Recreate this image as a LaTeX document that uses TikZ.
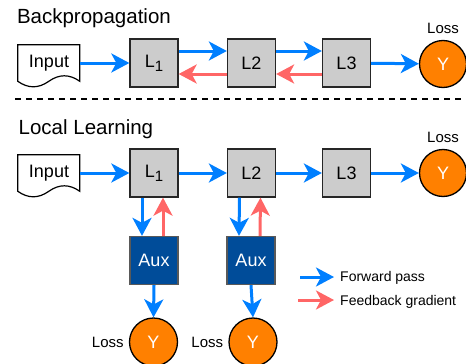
\documentclass[tikz,border=0pt]{standalone}
\usepackage{fontspec}
\setmainfont{Liberation Sans}
\usetikzlibrary{arrows.meta,positioning}
\definecolor{fwdblue}{HTML}{007FFF}
\definecolor{backred}{HTML}{FF6666}
\definecolor{boxgray}{HTML}{CCCCCC}
\definecolor{lossorange}{HTML}{FF8000}
\definecolor{auxblue}{HTML}{004C99}
\tikzset{
	layer/.style={draw=black!85,line width=1.3pt,fill=boxgray,minimum size=48pt,inner sep=0pt,font=\fontsize{18}{18}\selectfont},
	auxbox/.style={layer,draw=black!65,fill=auxblue,text=white},
	lossball/.style={circle,draw=black,line width=1.3pt,fill=lossorange,minimum size=47pt,inner sep=0pt,text=white,font=\fontsize{18}{18}\selectfont},
	inputdoc/.style={minimum width=62pt,minimum height=36pt,inner sep=0pt,font=\fontsize{18}{18}\selectfont},
	fwd/.style={draw=fwdblue,line width=3pt,-{Stealth[length=18pt,width=19pt,inset=5pt]}},
	bwd/.style={fwd,draw=backred},
	losstext/.style={inner sep=0pt,font=\fontsize{15}{15}\selectfont},
	title/.style={anchor=base west,inner sep=0pt,font=\fontsize{20.5}{20.5}\selectfont},
	legendtext/.style={anchor=base west,inner sep=0pt,font=\fontsize{14}{14}\selectfont}
}
\newcommand{\docoutline}[1]{%
	\draw[line width=1.2pt,shift={(#1.north west)}] (0,0) -- (62,0) -- (62,36.5)
		.. controls (51.67,29.17) and (41.33,29.17) .. (31,36.5)
		.. controls (20.67,43.83) and (10.33,43.83) .. (0,36.5) -- cycle;}
\begin{document}
\begin{tikzpicture}[x=1pt,y=-1pt]
	\useasboundingbox (0,0) rectangle (466,364);
	% backpropagation
	\node[title] (bptitle) at (16.8,23.5) {Backpropagation};
	\node[inputdoc] (in1) at (49,63) {Input};
	\docoutline{in1}
	\node[layer] (l1) at (154,63) {L\raisebox{-4pt}{\fontsize{15}{15}\selectfont 1}};
	\node[layer] (l2) at (251.5,63) {L2};
	\node[layer] (l3) at (346.5,63) {L3};
	\node[lossball] (y0) at (443,64) {Y};
	\node[losstext,above=6pt of y0] (loss0) {Loss};
	\draw[fwd] (in1) -- (l1);
	\draw[fwd] ([yshift=12pt]l1.east) -- ([yshift=12pt]l2.west);
	\draw[fwd] ([yshift=12pt]l2.east) -- ([yshift=12pt]l3.west);
	\draw[bwd] ([yshift=-11pt]l2.west) -- ([yshift=-11pt]l1.east);
	\draw[bwd] ([yshift=-11pt]l3.west) -- ([yshift=-11pt]l2.east);
	\draw[fwd] (l3) -- (y0);
	% separator
	\coordinate (sepl) at (15,99);
	\coordinate (sepr) at (466,99);
	\draw[line width=1.4pt,dash pattern=on 6pt off 5pt] (sepl) -- (sepr);
	% local learning
	\node[title] (lltitle) at (18.5,134.5) {Local Learning};
	\node[inputdoc] (in2) at (49,173) {Input};
	\docoutline{in2}
	\node[layer] (l1b) at (154,173) {L\raisebox{-4pt}{\fontsize{15}{15}\selectfont 1}};
	\node[layer] (l2b) at (251.5,173) {L2};
	\node[layer] (l3b) at (346.5,173) {L3};
	\node[lossball] (y1) at (443,173) {Y};
	\node[losstext,above=6pt of y1] (loss1) {Loss};
	\draw[fwd] (in2) -- (l1b);
	\draw[fwd] (l1b) -- (l2b);
	\draw[fwd] (l2b) -- (l3b);
	\draw[fwd] (l3b) -- (y1);
	\node[auxbox] (aux1) at (154,260.5) {Aux};
	\node[auxbox] (aux2) at (251,260.5) {Aux};
	\node[lossball,minimum size=48pt] (ya) at (153.5,342) {Y};
	\node[lossball,minimum size=48pt] (yb) at (253,342) {Y};
	\node[losstext,left=5pt of ya] (lossa) {Loss};
	\node[losstext,left=5pt of yb] (lossb) {Loss};
	\draw[fwd] ([xshift=-12pt]l1b.south) -- ([xshift=-12pt]aux1.north);
	\draw[bwd] ([xshift=9pt]aux1.north) -- ([xshift=9pt]l1b.south);
	\draw[fwd] ([xshift=-12pt]l2b.south) -- ([xshift=-12pt]aux2.north);
	\draw[bwd] ([xshift=9pt]aux2.north) -- ([xshift=9pt]l2b.south);
	\draw[fwd] (aux1.south) -- (ya.north);
	\draw[fwd] (aux2.south) -- (yb.north);
	% legend
	\coordinate (fwda) at (300,277);
	\coordinate (fwdb) at (334,277);
	\coordinate (bwda) at (298,300);
	\coordinate (bwdb) at (334,300);
	\draw[fwd] (fwda) -- (fwdb);
	\draw[bwd] (bwda) -- (bwdb);
	\node[legendtext] (fwdtext) at (340,281.7) {Forward pass};
	\node[legendtext] (bwdtext) at (340,305) {Feedback gradient};
\end{tikzpicture}
\end{document}
